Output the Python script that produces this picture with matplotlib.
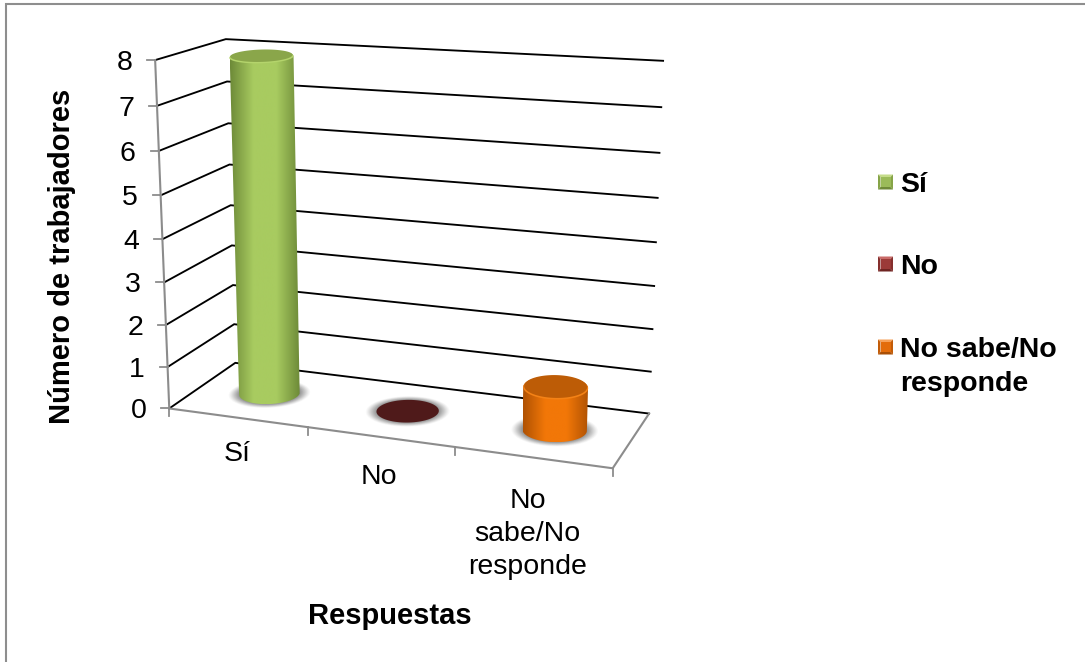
import numpy as np
import matplotlib
matplotlib.use("Agg")
import matplotlib.pyplot as plt
from matplotlib.patches import Polygon
from matplotlib.colors import LinearSegmentedColormap

plt.rcParams["font.family"] = ["Liberation Sans", "DejaVu Sans"]

# Survey answers
categories = ["Sí", "No", "No\nsabe/No\nresponde"]
legend_labels = ["Sí", "No", "No sabe/No\nresponde"]
values = [8, 0, 1]
value_ticks = [0, 1, 2, 3, 4, 5, 6, 7, 8]
y_title = "Número de trabajadores"
x_title = "Respuestas"

W, H = 1085, 662
fig = plt.figure(figsize=(W / 100, H / 100), dpi=100)
ax = fig.add_axes([0, 0, 1, 1])
ax.set_xlim(0, W)
ax.set_ylim(H, 0)
ax.axis("off")

# Perspective camera: (position along x, depth, value) -> canvas, fitted on box corners
calib = [
    ((0, 0, 0), (170, 408)), ((1, 0, 0), (613, 468)), ((0, 1, 0), (235, 363)),
    ((1, 1, 0), (649, 413)), ((0, 0, 8), (155, 60)), ((0, 1, 8), (226, 39)),
    ((1, 1, 8), (663, 61)), ((1 / 3, 0, 0), (307, 428)), ((2 / 3, 0, 0), (455, 447)),
    ((1, 1, 1), (651, 372)),
]
rows = []
for (a, b, c), (px, py) in calib:
    rows.append([a, b, c, 1, 0, 0, 0, 0, -px * a, -px * b, -px * c, -px])
    rows.append([0, 0, 0, 0, a, b, c, 1, -py * a, -py * b, -py * c, -py])
CAM = np.linalg.svd(np.array(rows, float))[2][-1].reshape(3, 4)


def project(u, d, v):
    u, d, v = np.broadcast_arrays(u, d, v)
    q = CAM @ np.vstack([u.ravel(), d.ravel(), v.ravel(), np.ones(u.size)])
    return q[0] / q[2], q[1] / q[2]


GREY = "#8c8c8c"

# Chart area border: only the top and left edges fall inside the canvas
ax.plot([6, 6, W], [H, 3.5, 3.5], color="#8e8e8e", lw=1.5, zorder=1, solid_joinstyle="miter")

# Gridlines across side wall and back wall
for v in value_ticks:
    x, y = project([0, 0, 1], [0, 1, 1], [v, v, v])
    ax.plot(x, y, color="black", lw=1.35, zorder=2, solid_joinstyle="miter")
    tx, ty = project(0, 0, v)
    ax.plot([tx[0] - 8, tx[0]], [ty[0], ty[0]], color=GREY, lw=1.3, zorder=3)
    ax.text(tx[0] - 23, ty[0], str(v), ha="right", va="center_baseline", fontsize=20.5, color="black")

# Grey floor edges and value axis
x, y = project([0, 0, 1, 1], [0, 0, 0, 1], [8, 0, 0, 0])
ax.plot(x, y, color=GREY, lw=1.5, zorder=3, solid_joinstyle="miter")
for i in range(4):
    x, y = project(i / 3, 0, 0)
    ax.plot([x[0], x[0]], [y[0], y[0] + 8], color=GREY, lw=1.3, zorder=3)

# Category labels sit under the front edge
label_centres = [454, 477, 534]
label_shift = [0, -1, -5]
for i, (name, yc, dx) in enumerate(zip(categories, label_centres, label_shift)):
    x, _ = project((i + 0.5) / 3, 0, 0)
    ax.text(x[0] + dx, yc, name, ha="center", va="center", fontsize=20.5, linespacing=1.36)

ax.text(62, 256, y_title, rotation=90, ha="center", va="center", fontsize=21, fontweight="bold")
ax.text(390, 616, x_title, ha="center", va="center", fontsize=21, fontweight="bold")

# Cylinders
RU, RD = 0.068, 0.215
theta = np.linspace(0, 2 * np.pi, 181)[:-1]
styles = [
    dict(edge="#6d8a38", mid="#a8cb60", top_dark="#8aa64a", top_rim="#b4d46c"),
    dict(edge="#4f1a1a", mid="#4f1a1a", top_dark="#4f1a1a", top_rim="#4f1a1a"),
    dict(edge="#b05203", mid="#f27708", top_dark="#bd5c06", top_rim="#f48216"),
]


def circle(i, v, scale=1.0):
    # Caps read a touch rounder and sit slightly lower the taller the cylinder is
    cu = (i + 0.5) / 3 + RU * scale * np.cos(theta)
    cd = 0.5 + RD * scale * np.sin(theta)
    x, y = project(cu, cd, np.full_like(cu, v))
    ym = y.mean()
    return x, ym + (y - ym) * (1 + 0.04 * v) + 0.5 * v


for i, (val, st) in enumerate(zip(values, styles)):
    # Soft contact shadow built from stacked translucent ellipses
    for s, a in zip(np.linspace(1.34, 1.02, 10), np.linspace(0.04, 0.14, 10)):
        bx, by = circle(i, 0, s)
        ax.fill(bx, by, color="#5a5a5a", alpha=a, lw=0, zorder=4)

    bx, by = circle(i, 0)
    if val == 0:
        ax.fill(bx, by, color=st["mid"], lw=0, zorder=6)
        continue
    tx, ty = circle(i, val)
    l_b, r_b = np.argmin(bx), np.argmax(bx)
    l_t, r_t = np.argmin(tx), np.argmax(tx)
    front = by >= by[[l_b, r_b]].mean()
    back = ty <= ty[[l_t, r_t]].mean()
    fo = np.argsort(bx[front])
    bo = np.argsort(-tx[back])
    px = np.r_[bx[front][fo], tx[back][bo]]
    py = np.r_[by[front][fo], ty[back][bo]]

    body = Polygon(np.c_[px, py], closed=True, fc="none", ec="none", zorder=5)
    ax.add_patch(body)
    cmap = LinearSegmentedColormap.from_list(
        "body", [st["edge"], st["mid"], st["mid"], st["edge"]])
    grad = np.linspace(0, 1, 128).reshape(1, -1)
    im = ax.imshow(grad, cmap=cmap, extent=[px.min(), px.max(), py.max(), py.min()],
                   aspect="auto", zorder=5, interpolation="bilinear")
    im.set_clip_path(body)

    # Cap: darker disc inside a lighter rim
    ax.fill(tx, ty, color=st["top_rim"], lw=0, zorder=6)
    dx, dy = circle(i, val, 0.97)
    cap = Polygon(np.c_[dx, dy - 1.2], closed=True, fc=st["top_dark"], ec="none", zorder=6)
    ax.add_patch(cap)

ax.set_xlim(0, W)
ax.set_ylim(H, 0)

# Legend with bevelled swatches
legend_rows = [182, 264, 347]
swatches = [
    ("#9bbb59", "#c5dc8a", "#6f8a38", "#86a447", "#86a447"),
    ("#9b3a38", "#c96a68", "#6f2422", "#852f2d", "#852f2d"),
    ("#e36c0a", "#f6a158", "#a94f05", "#c35c08", "#c35c08"),
]
for label, yc, (c, top, bottom, left, right) in zip(legend_labels, legend_rows, swatches):
    x0, x1, y0, y1, b = 878, 893, yc - 7.5, yc + 7.5, 2.5
    ax.add_patch(Polygon([(x0, y1), (x1, y1), (x1 - b, y1 - b), (x0 + b, y1 - b)], fc=bottom, ec="none", zorder=6))
    ax.add_patch(Polygon([(x0, y0), (x1, y0), (x1 - b, y0 + b), (x0 + b, y0 + b)], fc=top, ec="none", zorder=6))
    ax.add_patch(Polygon([(x0, y0), (x0 + b, y0 + b), (x0 + b, y1 - b), (x0, y1)], fc=left, ec="none", zorder=6))
    ax.add_patch(Polygon([(x1, y0), (x1 - b, y0 + b), (x1 - b, y1 - b), (x1, y1)], fc=right, ec="none", zorder=6))
    ax.add_patch(Polygon([(x0 + b, y0 + b), (x1 - b, y0 + b), (x1 - b, y1 - b), (x0 + b, y1 - b)], fc=c, ec="none", zorder=6))
    first, *rest = label.split("\n")
    ax.text(900, yc + 2.5, first, ha="left", va="center", fontsize=20.5, fontweight="bold")
    for line in rest:
        ax.text(900, yc + 37, line, ha="left", va="center", fontsize=20.5, fontweight="bold")

fig.savefig("out.png", dpi=100, facecolor="white")
